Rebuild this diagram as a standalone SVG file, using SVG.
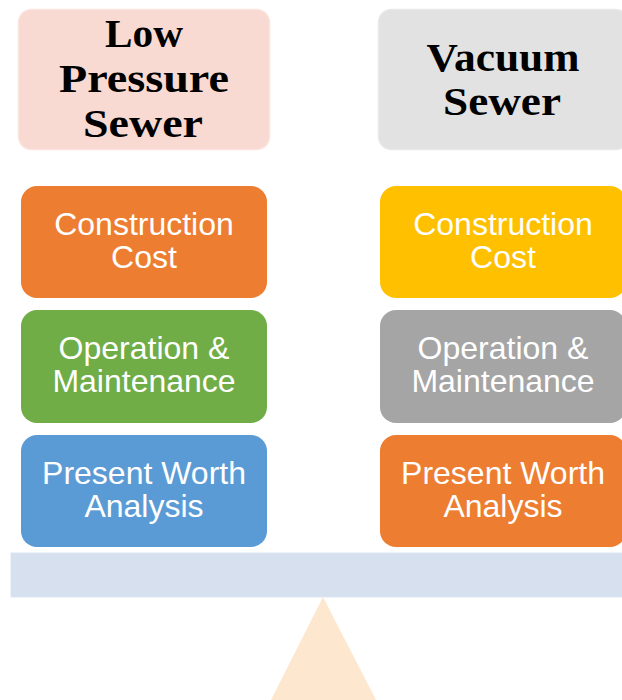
<svg xmlns="http://www.w3.org/2000/svg" width="622" height="700" viewBox="0 0 622 700">
<style>
.hdr{font-family:"Liberation Serif","Times New Roman",serif;font-weight:bold;font-size:40px;fill:#000;text-anchor:middle}
.lbl{font-family:"Liberation Sans",Arial,sans-serif;font-size:32px;fill:#fff;text-anchor:middle}
</style>
<rect width="622" height="700" fill="#fff"/>
<g id="fulcrum"><polygon points="323,597 271,700 376,700" fill="#FDE7CF"/></g>
<g id="beam"><rect x="11" y="553" width="615" height="44" fill="#D6E0EF" stroke="#DCE5F2" stroke-width="1"/></g>
<g id="low-pressure-sewer">
<rect x="18.5" y="9.5" width="251" height="140" rx="13" fill="#F8DAD3" stroke="#FBE3DE" stroke-width="1.5"/>
<text class="hdr" x="144" y="47" textLength="78" lengthAdjust="spacingAndGlyphs">Low</text>
<text class="hdr" x="144" y="92" textLength="170" lengthAdjust="spacingAndGlyphs">Pressure</text>
<text class="hdr" x="143" y="137" textLength="120" lengthAdjust="spacingAndGlyphs">Sewer</text>
</g>
<g id="vacuum-sewer">
<rect x="378.5" y="9.5" width="250" height="140" rx="13" fill="#E2E2E2" stroke="#E8E8E8" stroke-width="1.5"/>
<text class="hdr" x="503" y="71" textLength="153" lengthAdjust="spacingAndGlyphs">Vacuum</text>
<text class="hdr" x="502" y="115" textLength="118" lengthAdjust="spacingAndGlyphs">Sewer</text>
</g>
<g id="lp-construction">
<rect x="21" y="186" width="246" height="112" rx="16" fill="#ED7D31"/>
<text class="lbl" x="144" y="235">Construction</text>
<text class="lbl" x="144" y="268">Cost</text>
</g>
<g id="lp-operation">
<rect x="21" y="310" width="246" height="113" rx="16" fill="#70AD47"/>
<text class="lbl" x="144" y="359">Operation &amp;</text>
<text class="lbl" x="144" y="392">Maintenance</text>
</g>
<g id="lp-present-worth">
<rect x="21" y="435" width="246" height="112" rx="16" fill="#5B9BD5"/>
<text class="lbl" x="144" y="484">Present Worth</text>
<text class="lbl" x="144" y="517">Analysis</text>
</g>
<g id="vs-construction">
<rect x="380" y="186" width="246" height="112" rx="16" fill="#FFC000"/>
<text class="lbl" x="503" y="235">Construction</text>
<text class="lbl" x="503" y="268">Cost</text>
</g>
<g id="vs-operation">
<rect x="380" y="310" width="246" height="113" rx="16" fill="#A5A5A5"/>
<text class="lbl" x="503" y="359">Operation &amp;</text>
<text class="lbl" x="503" y="392">Maintenance</text>
</g>
<g id="vs-present-worth">
<rect x="380" y="435" width="246" height="112" rx="16" fill="#ED7D31"/>
<text class="lbl" x="503" y="484">Present Worth</text>
<text class="lbl" x="503" y="517">Analysis</text>
</g>
<g id="connectors"/>
</svg>
